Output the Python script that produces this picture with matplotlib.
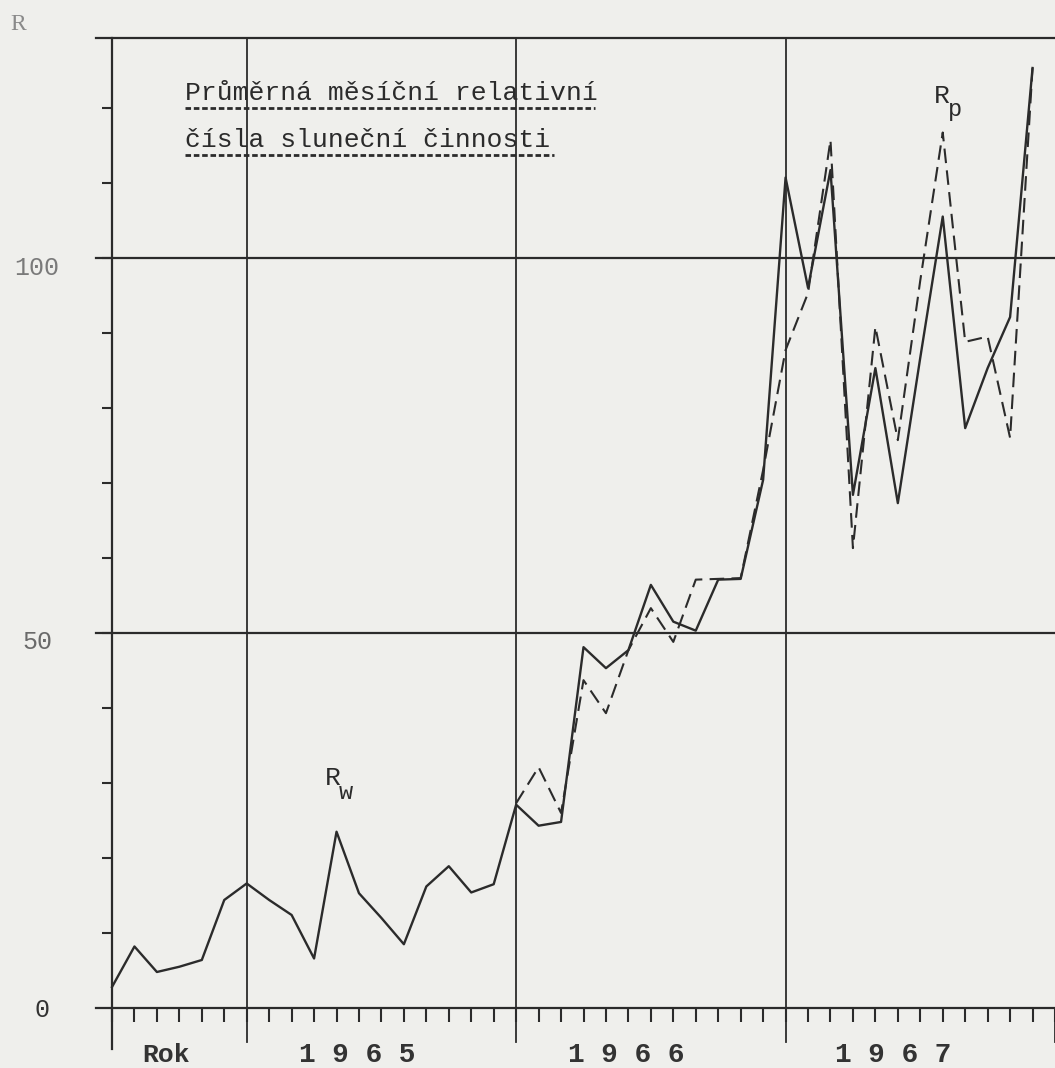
import matplotlib
matplotlib.use("Agg")
import matplotlib.pyplot as plt

# mesicni hodnoty od cervence 1964 (index 0) do prosince 1967
rw = [2.8, 8.2, 4.8, 5.5, 6.4, 14.4,
      16.6, 14.4, 12.4, 6.6, 23.5, 15.3, 12.0, 8.5, 16.2, 18.9, 15.4, 16.5,
      27.1, 24.3, 24.8, 48.1, 45.3, 47.7, 56.4, 51.5, 50.3, 57.1, 57.2, 70.4,
      110.7, 96.0, 111.7, 68.4, 85.3, 67.3, 86.7, 105.5, 77.3, 85.3, 92.1, 125.3]
# Rp zacina lednem 1966 (index 18)
rp_start = 18
rp = [27.3, 32.1, 26.0, 43.7, 39.3, 47.7, 53.3, 48.8, 57.1, 57.2, 57.3, 71.7,
      87.7, 95.3, 115.7, 61.3, 90.8, 75.7, 97.0, 116.7, 88.8, 89.5, 76.0, 125.3]

year_lines = [0, 6, 18, 30]
year_labels = ["Rok", "1 9 6 5", "1 9 6 6", "1 9 6 7"]
year_label_x = [2.4, 10.9, 22.9, 34.8]
y_labels = ["0", "50", "100"]
title_lines = ["Průměrná měsíční relativní", "čísla sluneční činnosti"]

W, H = 1055, 1068
bg = "#efefec"
ink = "#2b2b2b"
mono = "Liberation Mono"

fig = plt.figure(figsize=(W / 100, H / 100), dpi=100, facecolor=bg)
ax = fig.add_axes([112 / W, 60 / H, 943 / W, 970 / H], facecolor=bg)
ytop = 129.3
ax.set_xlim(0, 42)
ax.set_ylim(0, ytop)
for s in ax.spines.values():
    s.set_visible(False)

# mrizka a osy
for v in [0, 50, 100, ytop]:
    ax.plot([-0.7, 42], [v, v], color=ink, lw=1.6, clip_on=False, zorder=2)
ax.plot([0, 0], [-5.5, ytop], color=ink, lw=1.6, clip_on=False)
for x in year_lines[1:]:
    ax.plot([x, x], [-4.5, ytop], color=ink, lw=1.3, clip_on=False)
ax.plot([42, 42], [0, -4.5], color=ink, lw=1.3, clip_on=False)

ax.set_xticks(range(0, 43))
ax.set_yticks(range(10, 130, 10))
ax.tick_params(axis="x", direction="out", length=10, width=1.5, color=ink, labelbottom=False)
ax.tick_params(axis="y", direction="out", length=7, width=1.5, color=ink, labelleft=False)

# data
ax.plot(range(len(rw)), rw, color=ink, lw=1.7, zorder=3, clip_on=False)
ax.plot(range(rp_start, rp_start + len(rp)), rp, color=ink, lw=1.5,
        dashes=(7, 3.5), zorder=3, clip_on=False)

# popisky
for x, t in zip(year_label_x, year_labels):
    ax.text(x, -6.3, t, ha="center", va="center", fontsize=19 if t == "Rok" else 20,
            family=mono, fontweight="bold", color="#333333", clip_on=False)

fig.text(18 / W, 1 - 25 / H, "R", ha="center", va="center", fontsize=17,
         family="Liberation Serif", color="#8a8a8a")
fig.text(37 / W, 1 - 268 / H, y_labels[2], ha="center", va="center", fontsize=18,
         family=mono, color="#7a7a7a")
fig.text(37 / W, 1 - 642 / H, y_labels[1], ha="center", va="center", fontsize=18,
         family=mono, color="#6a6a6a")
fig.text(42 / W, 1 - 1010 / H, y_labels[0], ha="center", va="center", fontsize=18,
         family=mono, color="#333333")

ax.text(3.25, 121.1, title_lines[0], fontsize=19, family=mono, color=ink, va="baseline")
ax.text(3.25, 114.8, title_lines[1], fontsize=19, family=mono, color=ink, va="baseline")
ax.plot([3.25, 21.5], [120.0, 120.0], color=ink, lw=2.0, dashes=(2, 1))
ax.plot([3.25, 19.7], [113.7, 113.7], color=ink, lw=2.0, dashes=(2, 1))

# R_w a R_p (index dole)
for x, y, sub in [(9.5, 29.7, "w"), (36.6, 120.7, "p")]:
    ax.text(x, y, "R", fontsize=19, family=mono, color=ink, va="baseline")
    ax.text(x + 0.62, y - 1.8, sub, fontsize=17, family=mono, color=ink, va="baseline")

fig.savefig("out.png", dpi=100, facecolor=bg)
